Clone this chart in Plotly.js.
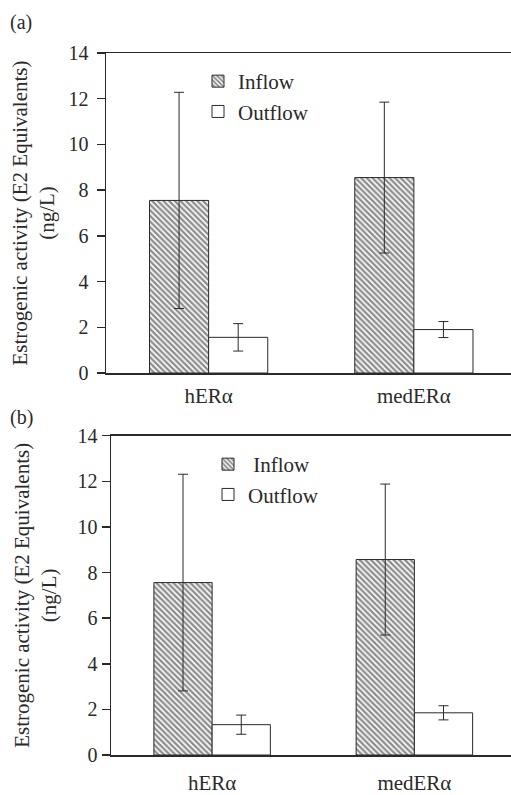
<!DOCTYPE html>
<html>
<head>
<meta charset="utf-8">
<script src="https://cdn.plot.ly/plotly-3.0.1.min.js"></script>
<style>
html,body{margin:0;padding:0;overflow:hidden;background:#fff;}
#chart{width:520px;height:795px;}
</style>
</head>
<body>
<div id="chart"></div>
<script>
// ---- data ----
const categories = ['hERα', 'medERα'];
const inflowA = [7.55, 8.55];
const inflowErrA = [4.73, 3.3];
const outflowA = [1.56, 1.9];
const outflowErrA = [0.6, 0.35];
const inflowB = [7.56, 8.57];
const inflowErrB = [4.75, 3.31];
const outflowB = [1.33, 1.85];
const outflowErrB = [0.42, 0.31];
const yTicks = [0, 2, 4, 6, 8, 10, 12, 14];
const panelLabels = ['(a)', '(b)'];
const yTitle = 'Estrogenic activity (E2 Equivalents)<br>(ng/L)';

// ---- style ----
const W = 520, H = 795;
const FONT = '"Liberation Serif", "Times New Roman", serif';
const INK = '#2a2a2a';
const hatch = {shape: '\\', size: 4, solidity: 0.6, fgcolor: '#1e1e1e', bgcolor: '#ffffff', fillmode: 'overlay'};
function err(a){ return {type: 'data', array: a, visible: true, color: INK, thickness: 1, width: 5}; }

const traces = [
  {type: 'bar', name: 'Inflow', x: categories, y: inflowA, xaxis: 'x', yaxis: 'y', legend: 'legend',
   marker: {color: '#ffffff', pattern: hatch, line: {color: INK, width: 1}}, error_y: err(inflowErrA)},
  {type: 'bar', name: 'Outflow', x: categories, y: outflowA, xaxis: 'x', yaxis: 'y', legend: 'legend',
   marker: {color: '#ffffff', line: {color: INK, width: 1}}, error_y: err(outflowErrA)},
  {type: 'bar', name: '\u00a0Inflow', x: categories, y: inflowB, xaxis: 'x2', yaxis: 'y2', legend: 'legend2',
   marker: {color: '#ffffff', pattern: hatch, line: {color: INK, width: 1}}, error_y: err(inflowErrB)},
  {type: 'bar', name: 'Outflow', x: categories, y: outflowB, xaxis: 'x2', yaxis: 'y2', legend: 'legend2',
   marker: {color: '#ffffff', line: {color: INK, width: 1}}, error_y: err(outflowErrB)}
];

function xax(domain, anchor, standoff){
  return {domain: domain, anchor: anchor, range: [-0.5, 1.5], showline: true, linecolor: INK, linewidth: 1.5, mirror: true,
    ticks: '', showgrid: false, zeroline: false, ticklabelstandoff: standoff,
    tickfont: {family: FONT, size: 21, color: INK}, fixedrange: true};
}
function yax(domain, anchor, standoff, titleStandoff){
  return {domain: domain, anchor: anchor, range: [0, 14], tickvals: yTicks, ticktext: yTicks.map(String),
    showline: true, linecolor: INK, linewidth: 1.5, ticks: 'outside', ticklen: 8, tickwidth: 1.5, tickcolor: INK,
    showgrid: false, zeroline: false, ticklabelstandoff: standoff,
    tickfont: {family: FONT, size: 20, color: INK},
    title: {text: yTitle, font: {family: FONT, size: 21, color: INK}, standoff: titleStandoff}, fixedrange: true};
}

const layout = {
  width: W, height: H,
  margin: {l: 0, r: 0, t: 0, b: 0},
  paper_bgcolor: '#ffffff', plot_bgcolor: '#ffffff',
  bargap: 0.424, bargroupgap: 0,
  barmode: 'group',
  showlegend: true,
  xaxis: xax([106/W, 516.5/W], 'y', 3),
  yaxis: yax([1 - 373/H, 1 - 53/H], 'x', 4, 8),
  xaxis2: xax([111/W, 515.5/W], 'y2', 8),
  yaxis2: yax([1 - 755/H, 1 - 435.7/H], 'x2', 0, 15),
  legend: {x: 198/W, y: 1 - 61/H, xanchor: 'left', yanchor: 'top', bgcolor: 'rgba(0,0,0,0)',
    font: {family: FONT, size: 21, color: INK}, itemwidth: 30, tracegroupgap: 0},
  legend2: {x: 208/W, y: 1 - 444/H, xanchor: 'left', yanchor: 'top', bgcolor: 'rgba(0,0,0,0)',
    font: {family: FONT, size: 21, color: INK}, itemwidth: 30, tracegroupgap: 0},
  annotations: [
    {text: panelLabels[0], xref: 'paper', yref: 'paper', x: 8/W, y: 1 - 23/H, xanchor: 'left', yanchor: 'middle',
     showarrow: false, font: {family: FONT, size: 20, color: INK}},
    {text: panelLabels[1], xref: 'paper', yref: 'paper', x: 8/W, y: 1 - 417/H, xanchor: 'left', yanchor: 'middle',
     showarrow: false, font: {family: FONT, size: 20, color: INK}}
  ]
};

Plotly.newPlot('chart', traces, layout, {staticPlot: true, displayModeBar: false});
</script>
</body>
</html>
